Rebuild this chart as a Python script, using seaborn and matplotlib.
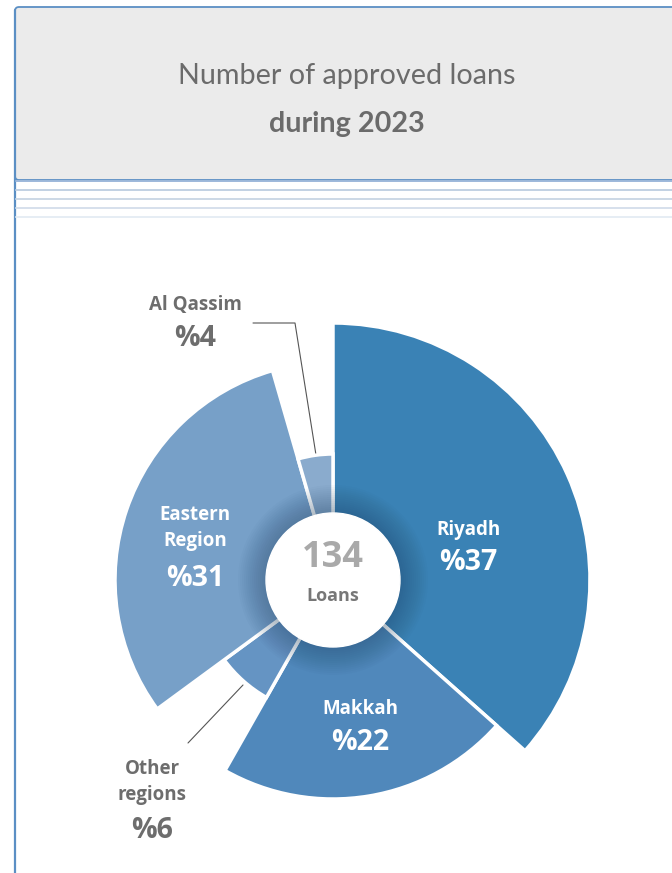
import numpy as np
import matplotlib.pyplot as plt
import seaborn as sns
from matplotlib.patches import FancyBboxPatch, Circle

# data
regions = ["Riyadh", "Makkah", "Other regions", "Eastern Region", "Al Qassim"]
loans = [49, 29, 9, 41, 6]          # wedge sizes
shares = [37, 22, 6, 31, 4]         # percentages printed on the chart
total_loans = 134
colors = ["#3a82b5", "#5088bb", "#6594c3", "#77a0c8", "#8aabcd"]
# radius of each wedge (pixels in the original)
wedge_r = [257, 219, 135, 218, 126]

sns.set_style("white")
plt.rcParams["font.family"] = ["Lato", "DejaVu Sans"]

W, H = 672, 873
fig = plt.figure(figsize=(W / 100, H / 100), dpi=100)


def fx(x):
    return x / W


def fy(y):
    return 1 - y / H


# header box and decoration lines
bg = fig.add_axes([0, 0, 1, 1])
bg.set_xlim(0, W)
bg.set_ylim(H, 0)
bg.axis("off")
bg.add_patch(FancyBboxPatch((15, 7), 700, 173, boxstyle="round,pad=0,rounding_size=4",
                            facecolor="#ebebeb", edgecolor="#5b8fc4", lw=1.3))
bg.plot([15, 15], [10, H], color="#5b8fc4", lw=1.6)
for yy, c in zip([181, 190, 199, 208, 217], ["#9db8da", "#c2d1e3", "#ccd8e6", "#d6e0ec", "#e6edf4"]):
    bg.plot([16, W], [yy, yy], color=c, lw=1.4)

fig.text(fx(347), fy(76), "Number of approved loans", ha="center", va="center",
         fontsize=20.7, color="#6b6b6b")
fig.text(fx(347), fy(124), "during 2023", ha="center", va="center",
         fontsize=20.7, color="#6b6b6b", fontweight="bold")

# polar chart
cx, cy, R = 333, 580, 262
ax = fig.add_axes([fx(cx - R), fy(cy + R), 2 * R / W, 2 * R / H], projection="polar")
ax.set_theta_zero_location("N")
ax.set_theta_direction(-1)
ax.set_ylim(0, R)
ax.axis("off")

fracs = np.array(loans) / sum(loans)
widths = fracs * 2 * np.pi
starts = np.concatenate([[0], np.cumsum(widths)[:-1]])
ax.bar(starts, wedge_r, width=widths, align="edge", color=colors,
       edgecolor="white", linewidth=2.5)

# soft shadow around centre
for k in range(14):
    rr = 67 + 28 * (1 - k / 14)
    ax.add_patch(Circle((0, 0), rr, transform=ax.transData._b, color="#1d3f60",
                        alpha=0.028, lw=0, zorder=3))
ax.add_patch(Circle((0, 0), 67, transform=ax.transData._b, color="white", zorder=4))

lab_font = ["Open Sans", "DejaVu Sans"]
fig.text(fx(cx), fy(558), str(total_loans), ha="center", va="center", fontsize=26,
         fontweight="bold", color="#a9a9a9", family=lab_font, zorder=6)
fig.text(fx(cx), fy(596), "Loans", ha="center", va="center", fontsize=13,
         fontweight="bold", color="#777777", family=lab_font, zorder=6)

# label layout: (x, y centre of name block, y of percentage, colour)
label_pos = {
    0: (468, 530, 563, "white"),
    1: (360, 709, 742, "white"),
    3: (195, 528, 578, "white"),
    4: (195, 305, 339, "#6d6d6d"),
    2: (152, 782, 830, "#6d6d6d"),
}
for i, (x, y_name, y_pct, col) in label_pos.items():
    name = regions[i] if i in (0, 1, 4) else "\n".join(regions[i].split(" "))
    fig.text(fx(x), fy(y_name), name, ha="center", va="center", fontsize=13.5,
             fontweight="bold", color=col, family=lab_font, linespacing=1.45)
    fig.text(fx(x), fy(y_pct), "%" + str(shares[i]), ha="center", va="center",
             fontsize=20.5, fontweight="bold", color=col, family=lab_font)

# leader lines
bg.plot([253, 295, 316], [323, 323, 455], color="#555555", lw=0.8)
bg.plot([243, 188], [685, 743], color="#555555", lw=0.8)

fig.savefig("out.png", dpi=100)
